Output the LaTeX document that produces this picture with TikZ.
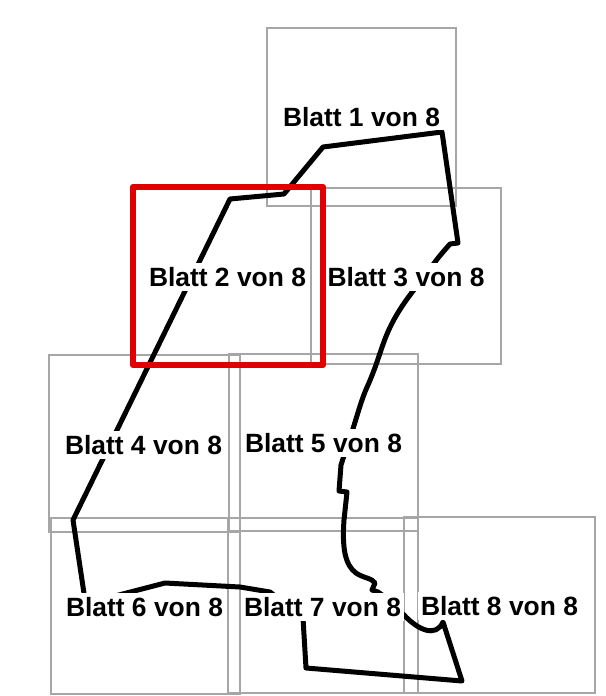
\documentclass[tikz,border=0pt]{standalone}
\usepackage{fontspec}
\setmainfont{Liberation Sans}
\definecolor{sheetgrey}{HTML}{A6A6A6}
\definecolor{sheetred}{HTML}{E10000}
\tikzset{
  sheet/.style={draw=sheetgrey,line width=2.2pt},
  active/.style={draw=sheetred,line width=6pt,line join=round},
  boundary/.style={draw=black,line width=5pt,line join=round},
  label/.style={inner xsep=3pt,inner ysep=4pt,fill=white,text height=19.5pt,text depth=0pt,
    font=\fontsize{26.4}{30}\selectfont\bfseries,text=black}
}
\begin{document}
\begin{tikzpicture}[x=1pt,y=-1pt]
\useasboundingbox (0,0) rectangle (605,696);
\fill[white] (0,0) rectangle (605,696);
\draw[sheet] (267,28) rectangle (456,206);
\draw[sheet] (311,188) rectangle (501,364);
\draw[sheet] (49,355) rectangle (240,532);
\draw[sheet] (229,354) rectangle (418,531);
\draw[sheet] (51,518) rectangle (240,694);
\draw[sheet] (228,518) rectangle (418,693);
\draw[sheet] (404,517) rectangle (595,693);
\draw[boundary] (85,600) -- (73,520) -- (230,199) -- (284,194) -- (323,147) -- (442,132)
  -- (458,243) -- (450,244) -- (443,252) -- (438,258) -- (432,266)
  .. controls (420,284) and (398,305) .. (385,339)
  .. controls (380,352) and (376,367) .. (368,385)
  .. controls (360,402) and (355,425) .. (349,440)
  -- (341,465) -- (339,491) -- (347,492) -- (344,520)
  .. controls (342,548) and (345,565) .. (356,573)
  .. controls (363,578) and (372,578) .. (375,583)
  -- (372,590) -- (378,592) -- (385,597) -- (404,615)
  .. controls (418,630) and (436,638) .. (443,622)
  -- (462,681) -- (306,668) -- (303,618) -- (270,592) -- (240,587) -- (165,583) -- (115,596) -- (85,600) -- cycle;
\node[label] (s1) at (361.5,116.5) {Blatt 1 von 8};
\node[label] (s2) at (227.5,277) {Blatt 2 von 8};
\node[label] (s3) at (406,277) {Blatt 3 von 8};
\node[label] (s4) at (143.5,445) {Blatt 4 von 8};
\node[label] (s5) at (323.5,443) {Blatt 5 von 8};
\node[label] (s6) at (144.5,607) {Blatt 6 von 8};
\node[label] (s7) at (322.5,607) {Blatt 7 von 8};
\node[label] (s8) at (499.5,606) {Blatt 8 von 8};
\draw[active] (133,187) rectangle (323,365);
\end{tikzpicture}
\end{document}
